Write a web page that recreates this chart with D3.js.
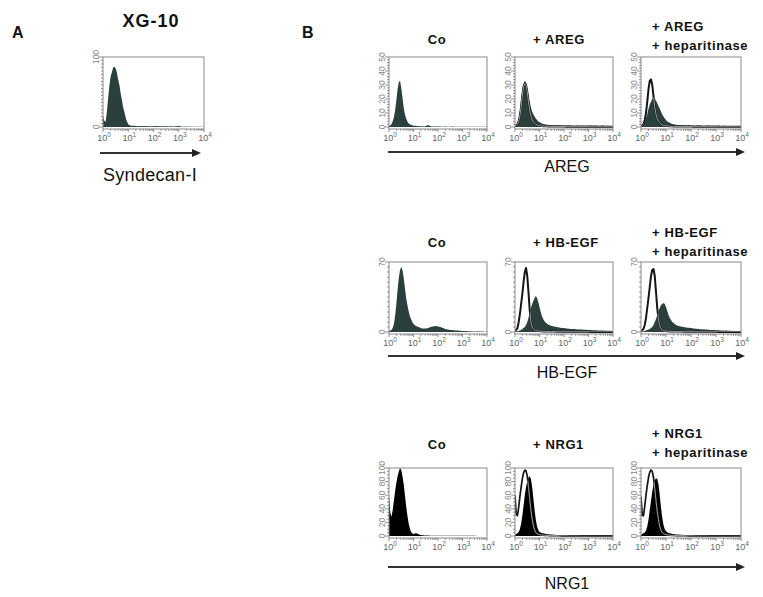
<!DOCTYPE html>
<html><head><meta charset="utf-8">
<script src="https://cdn.jsdelivr.net/npm/d3@7"></script>
<style>body{margin:0;background:#fff} svg{display:block} text{font-family:Arial,"Liberation Sans",sans-serif}</style>
</head><body><svg id="c" width="763" height="597"></svg>
<script>
// log10 fluorescence bin positions (10^0 .. 10^4)
const logBins = [0,0.05,0.1,0.15,0.2,0.25,0.3,0.35,0.4,0.45,0.5,0.55,0.6,0.65,0.7,0.75,0.8,0.85,0.9,0.95,
  1.0,1.05,1.1,1.15,1.2,1.25,1.3,1.35,1.4,1.45,1.5,
  1.6,1.7,1.8,1.9,2.0,2.1,2.2,2.3,2.4,2.5,2.6,2.7,2.8,2.9,3.0,3.1,3.2,3.3,3.4,3.5,3.6,3.7,3.8,3.9,4.0];
const xTickExponents = ["0","1","2","3","4"];

// Panel A: Syndecan-1 on XG-10
const syndecan = [16,9,7,20,40,58,72,78,85,86,84,78,68,60,48,38,28,21,13,8,
  4,2.5,2,1.5,2,1.5,1.5,1,1.5,1,1.5,
  1,1.5,1,1,1,1.5,1,1,1,1,0.8,1,0.8,1,1.5,0.8,0.5,0.8,0.5,0.5,0.5,0.5,0.3,0.3,0.3];

// AREG row
const aregCo = [1,1,2,4,7,12,19,27,32,33,28,21,14,9,6,4,2.5,2,1.5,1.2,
  1,0.8,1,0.6,0.8,0.5,0.6,0.4,0.5,0.4,0.8,
  1.5,0.6,0.4,0.3,0.4,0.3,0.2,0.3,0.2,0.2,0.3,0.2,0.2,0.2,0.2,0.1,0.2,0.1,0.1,0.1,0.1,0.1,0.1,0.1,0.1];
const aregPlus = [1,1.5,3,6,12,20,27,31,33,32,28,23,18,14,11,9,7.5,6,5,4,
  3.5,3,2.5,2.2,2,1.8,1.6,1.5,1.5,1.3,1.3,
  1.2,1.1,1.2,1,1.1,1,1.2,1,0.9,1,1.1,0.9,1,0.9,1,1.1,0.9,1,0.8,0.9,1,0.8,0.9,0.8,0.8];
const aregPlusCtrl = [1,1,2,4,8,14,22,29,31,30,25,18,12,8,5,3.5,2.5,2,1.5,1.2,
  1,0.8,0.8,0.6,0.6,0.5,0.5,0.4,0.4,0.4,0.4,
  0.3,0.3,0.3,0.3,0.3,0.2,0.2,0.2,0.2,0.2,0.2,0.2,0.2,0.2,0.2,0.1,0.1,0.1,0.1,0.1,0.1,0.1,0.1,0.1,0.1];
const aregHep = [0.5,1,2,3.5,6,9,13,16,18,20,21,20,19,17,15,13,11,9,7.5,6,
  5,4,3.5,3,2.5,2.2,2,1.8,1.6,1.5,1.4,
  1.3,1.2,1.1,1.2,1,1.1,1,1.2,1,0.9,1,1.1,0.9,1,0.9,1,0.8,0.9,0.8,0.8,0.7,0.8,0.7,0.6,0.6];
const aregHepCtrl = [1,1,2,5,10,18,27,33,34,30,22,14,9,6,4,3,2,1.5,1.2,1,
  0.8,0.8,0.6,0.6,0.5,0.5,0.4,0.4,0.4,0.4,0.4,
  0.3,0.3,0.3,0.3,0.3,0.2,0.2,0.2,0.2,0.2,0.2,0.2,0.2,0.2,0.2,0.1,0.1,0.1,0.1,0.1,0.1,0.1,0.1,0.1,0.1];

// HB-EGF row
const hbCo = [1,1.5,2,4,8,16,28,42,54,62,65,62,54,44,34,27,21,16,13,10,
  8,7,6,5.5,5,4.5,4,3.5,3.5,3.5,3.5,
  4,5,5.5,6,5.5,5,4,3,2.5,2,2,1.5,1.5,1.2,1,1,0.8,0.8,0.6,0.5,0.5,0.4,0.4,0.3,0.3];
const hbPlus = [0.5,0.5,0.8,1,1.5,2,3,4,5,7,10,14,19,24,28,31,34,36,34,30,
  25,20,16,13,11,9.5,8.5,7.5,7,6.5,6,
  5.5,5,4.5,4,4,3.5,3.2,3,3,2.8,2.5,2.5,2.3,2.2,2,2,1.8,1.8,1.6,1.5,1.5,1.3,1.2,1.2,1];
const hbPlusCtrl = [1,2,4,10,18,28,38,50,60,64,56,40,22,10,5,3,2,1.5,1.2,1,
  1,0.8,0.8,0.6,0.6,0.5,0.5,0.5,0.4,0.4,0.4,
  0.4,0.3,0.3,0.3,0.3,0.3,0.2,0.2,0.2,0.2,0.2,0.2,0.2,0.2,0.2,0.1,0.1,0.1,0.1,0.1,0.1,0.1,0.1,0.1,0.1];
const hbHep = [0.5,0.5,0.8,1,1.5,2,2.5,3,4,5,7,10,13,17,21,24,27,28,29,28,
  25,21,17,14,12,10,9,8,7,6.5,6,
  5.5,5,4.5,4.2,4,3.6,3.3,3,2.8,2.6,2.4,2.2,2,2,1.8,1.7,1.6,1.5,1.4,1.3,1.2,1.1,1,1,0.8];
const hbHepCtrl = [1,2,3,7,14,24,34,45,56,62,63,56,40,24,12,6,3,2,1.5,1.2,
  1,0.8,0.8,0.6,0.6,0.5,0.5,0.5,0.4,0.4,0.4,
  0.4,0.3,0.3,0.3,0.3,0.3,0.2,0.2,0.2,0.2,0.2,0.2,0.2,0.2,0.2,0.1,0.1,0.1,0.1,0.1,0.1,0.1,0.1,0.1,0.1];

// NRG1 row
const nrgCo = [60,35,28,38,52,66,78,88,95,100,97,88,76,60,44,30,19,11,6,4,
  3,3.5,4,3.5,3,2,1.5,1,1,0.8,0.8,
  0.6,0.5,0.5,0.4,0.4,0.4,0.3,0.3,0.3,0.3,0.2,0.2,0.2,0.2,0.2,0.2,0.2,0.2,0.2,0.2,0.1,0.1,0.1,0.1,0.1];
const nrgPlus = [2,3,4,6,10,18,30,45,60,72,80,86,88,84,72,55,38,24,14,9,
  6,5,4,4,3.5,3,2.5,2.5,2,2,2,
  1.5,1.5,1.2,1.2,1,1,0.8,0.8,0.8,0.6,0.6,0.5,0.5,0.5,0.4,0.4,0.3,0.3,0.3,0.3,0.2,0.2,0.2,0.2,0.2];
const nrgPlusCtrl = [60,32,30,42,58,72,84,93,97,96,88,72,55,38,25,15,9,5,3.5,2.5,
  2,1.5,1.5,1.2,1,1,0.8,0.8,0.6,0.6,0.5,
  0.5,0.4,0.4,0.3,0.3,0.3,0.2,0.2,0.2,0.2,0.2,0.2,0.2,0.2,0.2,0.1,0.1,0.1,0.1,0.1,0.1,0.1,0.1,0.1,0.1];
const nrgHep = [2,3,4,5,8,14,24,38,52,65,75,82,85,84,76,60,42,27,16,10,
  7,5.5,4.5,4,3.5,3,2.5,2.5,2,2,2,
  1.5,1.5,1.2,1.2,1,1,0.8,0.8,0.8,0.6,0.6,0.5,0.5,0.5,0.4,0.4,0.3,0.3,0.3,0.3,0.2,0.2,0.2,0.2,0.2];
const nrgHepCtrl = [58,30,30,44,60,74,86,94,97,95,86,70,52,36,24,14,8,5,3.5,2.5,
  2,1.5,1.5,1.2,1,1,0.8,0.8,0.6,0.6,0.5,
  0.5,0.4,0.4,0.3,0.3,0.3,0.2,0.2,0.2,0.2,0.2,0.2,0.2,0.2,0.2,0.1,0.1,0.1,0.1,0.1,0.1,0.1,0.1,0.1,0.1];

const yTicksSyndecan = [0,100];
const yTicksAREG = [0,10,20,30,40,50];
const yTicksHBEGF = [0,70];
const yTicksNRG1 = [0,20,40,60,80,100];

const svg = d3.select("#c");
const defs = svg.append("defs");
let clipN = 0;
const SLATE = "#2b3f3d";

function drawPanel(c){
  const xs = d3.scaleLinear().domain([0,4]).range([c.x0, c.x1]);
  const ys = d3.scaleLinear().domain([0,c.yMax]).range([c.y1-2, c.y0]);
  const g = svg.append("g");
  const boxId = "bx"+(clipN++);
  defs.append("clipPath").attr("id",boxId).append("rect")
    .attr("x",c.x0).attr("y",c.y0).attr("width",c.x1-c.x0).attr("height",c.y1-c.y0);
  const pts = v => logBins.map((b,i)=>[b, v[i]]);
  const area = d3.area().x(d=>xs(d[0])).y0(ys(0)).y1(d=>ys(d[1]));
  const line = d3.line().x(d=>xs(d[0])).y(d=>ys(d[1]));
  const inner = g.append("g").attr("clip-path",`url(#${boxId})`);
  inner.append("path").attr("d", area(pts(c.fill))).attr("fill", c.color);
  if (c.outline){
    inner.append("path").attr("d", line(pts(c.outline))).attr("fill","none")
      .attr("stroke","#151515").attr("stroke-width",c.ow).attr("stroke-linejoin","round");
    const fid = "fc"+(clipN++);
    defs.append("clipPath").attr("id",fid).append("path").attr("d", area(pts(c.fill)));
    inner.append("g").attr("clip-path",`url(#${fid})`).append("path")
      .attr("d", line(pts(c.outline))).attr("fill","none").attr("stroke","#fff").attr("stroke-width",0.6);
  }
  g.append("rect").attr("x",c.x0).attr("y",c.y0).attr("width",c.x1-c.x0).attr("height",c.y1-c.y0)
    .attr("fill","none").attr("stroke","#8a8a8a").attr("stroke-width",1);
  // y ticks
  const minor = d3.range(0, c.yMax+0.001, c.yMinor);
  g.selectAll(".ym").data(minor).join("line")
    .attr("x1",c.x0).attr("x2",d=>c.yTicks.includes(d)?c.x0-4:c.x0-2)
    .attr("y1",d=>ys(d)).attr("y2",d=>ys(d)).attr("stroke","#777").attr("stroke-width",0.8);
  g.selectAll(".yl").data(c.yTicks).join("text")
    .attr("transform",d=>`translate(${c.x0-4},${ys(d)}) rotate(-90)`)
    .attr("text-anchor","middle").attr("font-size",8.5).attr("fill","#888").text(d=>d);
  // x ticks (log minor)
  const xt = [];
  for (let dd=0; dd<4; dd++){ for (let k=1;k<10;k++) xt.push({v:dd+Math.log10(k), major:k===1}); }
  xt.push({v:4,major:true});
  g.selectAll(".xm").data(xt).join("line")
    .attr("x1",d=>xs(d.v)).attr("x2",d=>xs(d.v)).attr("y1",c.y1).attr("y2",d=>d.major?c.y1+3:c.y1+1.8)
    .attr("stroke","#777").attr("stroke-width",0.8);
  const lab = g.selectAll(".xl").data(xTickExponents).join("text")
    .attr("x",(d,i)=>xs(i)+1).attr("y",c.y1+12).attr("text-anchor","middle")
    .attr("font-size",9).attr("fill","#666");
  lab.append("tspan").text("10");
  lab.append("tspan").attr("dy",-4).attr("font-size",6.5).text(d=>d);
}

function arrow(xa, xb, y){
  svg.append("line").attr("x1",xa).attr("x2",xb-6).attr("y1",y).attr("y2",y)
    .attr("stroke","#333").attr("stroke-width",2.2);
  svg.append("path").attr("d",`M${xb},${y} L${xb-9},${y-4} L${xb-9},${y+4} Z`).attr("fill","#222");
}
function txt(x,y,s,size,bold,anchor,ls){
  svg.append("text").attr("x",x).attr("y",y).attr("font-size",size)
    .attr("font-weight",bold?"bold":"normal").attr("text-anchor",anchor||"start")
    .attr("letter-spacing",ls||0).attr("fill","#111").text(s);
}

// Panel A
drawPanel({x0:103,x1:204,y0:57,y1:129,yMax:100,yTicks:yTicksSyndecan,yMinor:5,fill:syndecan,outline:null,color:SLATE,ow:2});
txt(12,38,"A",16,true);
txt(151,27,"XG-10",18,true,"middle",1);
arrow(100,201,153);
txt(150,181,"Syndecan-I",18,false,"middle",0.3);

// Panel B
txt(302,38,"B",16,true);
const colX = [[389,487],[515,613],[641,741]];
const rows = [
  {y0:57,y1:129,yMax:50,yTicks:yTicksAREG,yMinor:2,color:SLATE,ow:2,
   data:[[aregCo,null],[aregPlus,aregPlusCtrl],[aregHep,aregHepCtrl]],
   titles:["+ AREG"], tY:[44,31,50], arrowY:152, label:"AREG", labelY:172},
  {y0:262,y1:334,yMax:70,yTicks:yTicksHBEGF,yMinor:5,color:SLATE,ow:2,
   data:[[hbCo,null],[hbPlus,hbPlusCtrl],[hbHep,hbHepCtrl]],
   titles:["+ HB-EGF"], tY:[247,237,256], arrowY:356, label:"HB-EGF", labelY:378},
  {y0:468,y1:538,yMax:100,yTicks:yTicksNRG1,yMinor:5,color:"#000",ow:1.7,
   data:[[nrgCo,null],[nrgPlus,nrgPlusCtrl],[nrgHep,nrgHepCtrl]],
   titles:["+ NRG1"], tY:[449,438,457], arrowY:567, label:"NRG1", labelY:589}
];
rows.forEach(r=>{
  r.data.forEach((d,i)=>{
    drawPanel({x0:colX[i][0],x1:colX[i][1],y0:r.y0,y1:r.y1,yMax:r.yMax,yTicks:r.yTicks,yMinor:r.yMinor,
      fill:d[0],outline:d[1],color:r.color,ow:r.ow});
  });
  txt(437,r.tY[0],"Co",13,true,"middle",0.5);
  txt(533,r.tY[0],r.titles[0],13,true,"start",0.6);
  txt(652,r.tY[1],r.titles[0],13,true,"start",0.6);
  txt(652,r.tY[2],"+ heparitinase",13,true,"start",0.6);
  arrow(388,745,r.arrowY);
  txt(567,r.labelY,r.label,16,false,"middle");
});
</script></body></html>
